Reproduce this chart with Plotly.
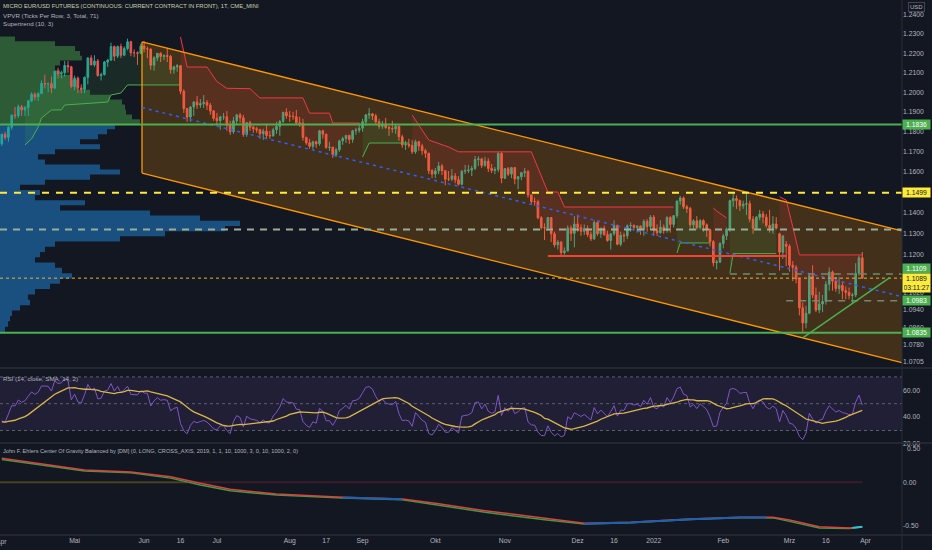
import numpy as np
import pandas as pd
import plotly.graph_objects as go

FONT = "Liberation Sans, Arial, sans-serif"
BG = "#131722"
TXT = "#b2b5be"

# one daily bar per weekday, Apr 2021 .. Mar 2022
dates = pd.bdate_range("2021-04-01", "2022-03-31")

opens = [
    # Apr 2021
    1.1740, 1.1788, 1.1772, 1.1823, 1.1884, 1.1881, 1.1926, 1.1910, 1.1921, 1.1956, 1.1990,
    1.1976, 1.1993, 1.2045, 1.2043, 1.2044, 1.2021, 1.2107, 1.2094, 1.2100, 1.2137, 1.2130,
    # May
    1.2029, 1.2072, 1.2022, 1.2014, 1.2076, 1.2176, 1.2140, 1.2160, 1.2085, 1.2090, 1.2155,
    1.2165, 1.2235, 1.2185, 1.2235, 1.2190, 1.2225, 1.2260, 1.2203, 1.2203, 1.2200,
    # Jun
    1.2238, 1.2223, 1.2222, 1.2138, 1.2176, 1.2200, 1.2184, 1.2188, 1.2184, 1.2116, 1.2130,
    1.2136, 1.2005, 1.1917, 1.1874, 1.1925, 1.1950, 1.1935, 1.1942, 1.1948, 1.1934, 1.1905,
    # Jul
    1.1868, 1.1856, 1.1875, 1.1875, 1.1833, 1.1800, 1.1855, 1.1885, 1.1870, 1.1787, 1.1846,
    1.1823, 1.1815, 1.1810, 1.1790, 1.1803, 1.1782, 1.1780, 1.1810, 1.1827, 1.1852, 1.1898,
    # Aug
    1.1880, 1.1878, 1.1876, 1.1845, 1.1843, 1.1772, 1.1745, 1.1728, 1.1750, 1.1740, 1.1805,
    1.1788, 1.1722, 1.1723, 1.1686, 1.1710, 1.1755, 1.1766, 1.1782, 1.1762, 1.1805, 1.1808,
    # Sep
    1.1818, 1.1850, 1.1885, 1.1890, 1.1880, 1.1850, 1.1828, 1.1840, 1.1822, 1.1818, 1.1815,
    1.1828, 1.1775, 1.1735, 1.1737, 1.1732, 1.1700, 1.1750, 1.1729, 1.1706, 1.1693, 1.1607,
    # Oct
    1.1590, 1.1606, 1.1630, 1.1607, 1.1565, 1.1565, 1.1581, 1.1562, 1.1540, 1.1604, 1.1607,
    1.1610, 1.1618, 1.1662, 1.1665, 1.1633, 1.1654, 1.1618, 1.1608, 1.1613, 1.1692,
    # Nov
    1.1570, 1.1617, 1.1590, 1.1622, 1.1566, 1.1577, 1.1597, 1.1602, 1.1488, 1.1456, 1.1455,
    1.1377, 1.1330, 1.1328, 1.1378, 1.1300, 1.1247, 1.1260, 1.1210, 1.1218, 1.1328, 1.1302,
    # Dec
    1.1347, 1.1330, 1.1312, 1.1325, 1.1297, 1.1276, 1.1354, 1.1300, 1.1326, 1.1296, 1.1268,
    1.1300, 1.1340, 1.1250, 1.1293, 1.1290, 1.1338, 1.1340, 1.1330, 1.1337, 1.1320, 1.1360, 1.1335,
    # Jan 2022
    1.1380, 1.1315, 1.1305, 1.1332, 1.1315, 1.1378, 1.1345, 1.1387, 1.1458, 1.1473, 1.1430,
    1.1422, 1.1343, 1.1362, 1.1330, 1.1363, 1.1343, 1.1320, 1.1262, 1.1162, 1.1165,
    # Feb
    1.1253, 1.1290, 1.1323, 1.1460, 1.1470, 1.1461, 1.1435, 1.1443, 1.1445, 1.1370,
    1.1326, 1.1380, 1.1395, 1.1380, 1.1340, 1.1327, 1.1347, 1.1300, 1.1212, 1.1250,
    # Mar
    1.1240, 1.1150, 1.1140, 1.1085, 1.0950, 1.0880, 1.0925, 1.1100, 1.1010, 1.0940, 1.0968,
    1.0980, 1.1060, 1.1118, 1.1075, 1.1040, 1.1055, 1.1030, 1.1022, 1.1008, 1.1010, 1.1112, 1.1185,
]
highs = [
    1.1790, 1.1800, 1.1830, 1.1885, 1.1925, 1.1937, 1.1935, 1.1930, 1.1960, 1.2000, 1.1999,
    1.2000, 1.2060, 1.2090, 1.2050, 1.2080, 1.2110, 1.2125, 1.2110, 1.2160, 1.2160, 1.2135,
    1.2085, 1.2080, 1.2040, 1.2080, 1.2180, 1.2190, 1.2190, 1.2170, 1.2100, 1.2160, 1.2170,
    1.2255, 1.2240, 1.2240, 1.2250, 1.2235, 1.2276, 1.2265, 1.2220, 1.2210, 1.2250,
    1.2264, 1.2235, 1.2225, 1.2185, 1.2200, 1.2205, 1.2195, 1.2228, 1.2192, 1.2135, 1.2145,
    1.2140, 1.2015, 1.1920, 1.1930, 1.1955, 1.1980, 1.1965, 1.1985, 1.1960, 1.1945, 1.1910,
    1.1895, 1.1880, 1.1895, 1.1905, 1.1855, 1.1875, 1.1890, 1.1895, 1.1885, 1.1850, 1.1855,
    1.1830, 1.1825, 1.1815, 1.1815, 1.1840, 1.1805, 1.1820, 1.1850, 1.1860, 1.1900, 1.1919,
    1.1905, 1.1900, 1.1910, 1.1875, 1.1865, 1.1775, 1.1765, 1.1755, 1.1755, 1.1810, 1.1810,
    1.1790, 1.1750, 1.1725, 1.1720, 1.1760, 1.1775, 1.1780, 1.1785, 1.1810, 1.1820, 1.1845,
    1.1865, 1.1890, 1.1919, 1.1895, 1.1890, 1.1865, 1.1855, 1.1870, 1.1830, 1.1855, 1.1840,
    1.1830, 1.1785, 1.1755, 1.1765, 1.1760, 1.1760, 1.1755, 1.1740, 1.1715, 1.1695, 1.1615,
    1.1620, 1.1650, 1.1640, 1.1610, 1.1605, 1.1615, 1.1595, 1.1580, 1.1610, 1.1635, 1.1635,
    1.1630, 1.1680, 1.1678, 1.1670, 1.1675, 1.1668, 1.1640, 1.1625, 1.1702, 1.1700,
    1.1620, 1.1625, 1.1625, 1.1625, 1.1580, 1.1600, 1.1620, 1.1610, 1.1490, 1.1475, 1.1465,
    1.1385, 1.1350, 1.1380, 1.1380, 1.1310, 1.1270, 1.1265, 1.1235, 1.1340, 1.1340, 1.1385,
    1.1392, 1.1345, 1.1345, 1.1340, 1.1310, 1.1365, 1.1360, 1.1330, 1.1340, 1.1315, 1.1300,
    1.1365, 1.1345, 1.1310, 1.1305, 1.1345, 1.1355, 1.1345, 1.1340, 1.1340, 1.1370, 1.1370, 1.1390,
    1.1390, 1.1345, 1.1365, 1.1345, 1.1385, 1.1385, 1.1390, 1.1460, 1.1482, 1.1480, 1.1440,
    1.1430, 1.1370, 1.1385, 1.1370, 1.1370, 1.1350, 1.1325, 1.1270, 1.1175, 1.1260,
    1.1300, 1.1330, 1.1465, 1.1495, 1.1485, 1.1465, 1.1460, 1.1499, 1.1460, 1.1385,
    1.1385, 1.1415, 1.1410, 1.1395, 1.1415, 1.1385, 1.1380, 1.1305, 1.1290, 1.1265,
    1.1250, 1.1170, 1.1150, 1.1090, 1.0975, 1.0960, 1.1110, 1.1150, 1.1045, 1.1025, 1.1010,
    1.1075, 1.1140, 1.1125, 1.1095, 1.1095, 1.1075, 1.1050, 1.1045, 1.1020, 1.1160, 1.1195, 1.1213,
]
lows = [
    1.1730, 1.1760, 1.1750, 1.1810, 1.1865, 1.1870, 1.1880, 1.1880, 1.1880, 1.1950, 1.1960,
    1.1955, 1.1990, 1.2020, 1.2000, 1.1995, 1.2015, 1.2070, 1.2070, 1.2080, 1.2100, 1.2020,
    1.2010, 1.1995, 1.1995, 1.1995, 1.2040, 1.2140, 1.2130, 1.2080, 1.2060, 1.2085, 1.2130,
    1.2160, 1.2160, 1.2175, 1.2175, 1.2185, 1.2215, 1.2185, 1.2180, 1.2140, 1.2195,
    1.2205, 1.2175, 1.2115, 1.2110, 1.2160, 1.2155, 1.2165, 1.2155, 1.2095, 1.2095, 1.2105,
    1.1990, 1.1895, 1.1850, 1.1850, 1.1880, 1.1915, 1.1920, 1.1920, 1.1910, 1.1885, 1.1855,
    1.1830, 1.1810, 1.1860, 1.1805, 1.1785, 1.1790, 1.1835, 1.1845, 1.1775, 1.1775, 1.1805,
    1.1795, 1.1795, 1.1765, 1.1760, 1.1765, 1.1765, 1.1775, 1.1790, 1.1780, 1.1845, 1.1865,
    1.1850, 1.1860, 1.1840, 1.1825, 1.1755, 1.1735, 1.1715, 1.1715, 1.1720, 1.1730, 1.1765,
    1.1715, 1.1705, 1.1670, 1.1674, 1.1700, 1.1735, 1.1745, 1.1740, 1.1745, 1.1785, 1.1795,
    1.1800, 1.1830, 1.1865, 1.1860, 1.1840, 1.1815, 1.1815, 1.1815, 1.1780, 1.1795, 1.1790,
    1.1755, 1.1720, 1.1710, 1.1720, 1.1690, 1.1690, 1.1705, 1.1685, 1.1670, 1.1590, 1.1570,
    1.1570, 1.1590, 1.1585, 1.1535, 1.1555, 1.1555, 1.1545, 1.1534, 1.1535, 1.1590, 1.1595,
    1.1580, 1.1610, 1.1630, 1.1620, 1.1625, 1.1600, 1.1595, 1.1590, 1.1600, 1.1545,
    1.1565, 1.1580, 1.1570, 1.1540, 1.1515, 1.1560, 1.1575, 1.1475, 1.1440, 1.1435, 1.1370,
    1.1320, 1.1270, 1.1315, 1.1260, 1.1235, 1.1225, 1.1195, 1.1200, 1.1215, 1.1265, 1.1235,
    1.1310, 1.1290, 1.1295, 1.1285, 1.1265, 1.1270, 1.1290, 1.1280, 1.1290, 1.1262, 1.1225,
    1.1290, 1.1245, 1.1240, 1.1260, 1.1275, 1.1310, 1.1315, 1.1305, 1.1295, 1.1290, 1.1310, 1.1320,
    1.1290, 1.1290, 1.1300, 1.1300, 1.1305, 1.1305, 1.1330, 1.1375, 1.1440, 1.1420, 1.1400,
    1.1330, 1.1325, 1.1320, 1.1320, 1.1310, 1.1285, 1.1240, 1.1145, 1.1130, 1.1160,
    1.1230, 1.1270, 1.1310, 1.1430, 1.1420, 1.1410, 1.1420, 1.1390, 1.1355, 1.1300,
    1.1320, 1.1365, 1.1350, 1.1330, 1.1305, 1.1300, 1.1320, 1.1125, 1.1180, 1.1145,
    1.1120, 1.1075, 1.1065, 1.0915, 1.0836, 1.0855, 1.0920, 1.0995, 1.0930, 1.0925, 1.0930,
    1.0965, 1.1030, 1.1030, 1.1025, 1.1015, 1.0990, 1.0990, 1.0990, 1.0970, 1.1000, 1.1100, 1.1085,
]
closes = [
    1.1788, 1.1772, 1.1823, 1.1884, 1.1881, 1.1926, 1.1910, 1.1921, 1.1956, 1.1990, 1.1976,
    1.1993, 1.2045, 1.2043, 1.2044, 1.2021, 1.2107, 1.2094, 1.2100, 1.2137, 1.2130, 1.2029,
    1.2072, 1.2022, 1.2014, 1.2076, 1.2176, 1.2140, 1.2160, 1.2085, 1.2090, 1.2155, 1.2165,
    1.2235, 1.2185, 1.2235, 1.2190, 1.2225, 1.2260, 1.2203, 1.2203, 1.2200, 1.2238,
    1.2223, 1.2222, 1.2138, 1.2176, 1.2200, 1.2184, 1.2188, 1.2184, 1.2116, 1.2130, 1.2136,
    1.2005, 1.1917, 1.1874, 1.1925, 1.1950, 1.1935, 1.1942, 1.1948, 1.1934, 1.1905, 1.1868,
    1.1856, 1.1875, 1.1875, 1.1833, 1.1800, 1.1855, 1.1885, 1.1870, 1.1787, 1.1846, 1.1823,
    1.1815, 1.1810, 1.1790, 1.1803, 1.1782, 1.1780, 1.1810, 1.1827, 1.1852, 1.1898, 1.1880,
    1.1878, 1.1876, 1.1845, 1.1843, 1.1772, 1.1745, 1.1728, 1.1750, 1.1740, 1.1805, 1.1788,
    1.1722, 1.1723, 1.1686, 1.1710, 1.1755, 1.1766, 1.1782, 1.1762, 1.1805, 1.1808, 1.1818,
    1.1850, 1.1885, 1.1890, 1.1880, 1.1850, 1.1828, 1.1840, 1.1822, 1.1818, 1.1815, 1.1828,
    1.1775, 1.1735, 1.1737, 1.1732, 1.1700, 1.1750, 1.1729, 1.1706, 1.1693, 1.1607, 1.1590,
    1.1606, 1.1630, 1.1607, 1.1565, 1.1565, 1.1581, 1.1562, 1.1540, 1.1604, 1.1607, 1.1610,
    1.1618, 1.1662, 1.1665, 1.1633, 1.1654, 1.1618, 1.1608, 1.1613, 1.1692, 1.1570,
    1.1617, 1.1590, 1.1622, 1.1566, 1.1577, 1.1597, 1.1602, 1.1488, 1.1456, 1.1455, 1.1377,
    1.1330, 1.1328, 1.1378, 1.1300, 1.1247, 1.1260, 1.1210, 1.1218, 1.1328, 1.1302, 1.1347,
    1.1330, 1.1312, 1.1325, 1.1297, 1.1276, 1.1354, 1.1300, 1.1326, 1.1296, 1.1268, 1.1300,
    1.1340, 1.1250, 1.1293, 1.1290, 1.1338, 1.1340, 1.1330, 1.1337, 1.1320, 1.1360, 1.1335, 1.1380,
    1.1315, 1.1305, 1.1332, 1.1315, 1.1378, 1.1345, 1.1387, 1.1458, 1.1473, 1.1430, 1.1422,
    1.1343, 1.1362, 1.1330, 1.1363, 1.1343, 1.1320, 1.1262, 1.1162, 1.1165, 1.1253,
    1.1290, 1.1323, 1.1460, 1.1470, 1.1461, 1.1435, 1.1443, 1.1445, 1.1370, 1.1326,
    1.1380, 1.1395, 1.1380, 1.1340, 1.1327, 1.1347, 1.1327, 1.1212, 1.1290, 1.1240,
    1.1150, 1.1140, 1.1085, 1.0950, 1.0880, 1.0925, 1.1100, 1.1010, 1.0940, 1.0968, 1.0980,
    1.1060, 1.1118, 1.1075, 1.1040, 1.1055, 1.1030, 1.1022, 1.1008, 1.1010, 1.1112, 1.1185, 1.1089,
]
# Feb-Mar 2021 closes, only used to warm up the RSI
warmup_closes = [
    1.2073, 1.2050, 1.2045, 1.1973, 1.2056, 1.2060, 1.2128, 1.2130, 1.2143, 1.2128,
    1.2140, 1.2115, 1.2050, 1.2100, 1.2130, 1.2165, 1.2160, 1.2175, 1.2185, 1.2085,
    1.2058, 1.2100, 1.2075, 1.1975, 1.1925, 1.1858, 1.1910, 1.1935, 1.1995, 1.1960,
    1.1940, 1.1910, 1.1987, 1.1925, 1.1915, 1.1947, 1.1860, 1.1825, 1.1775, 1.1805,
    1.1775, 1.1738, 1.1740,
]

# volume profile (VPVR): row centre prices and row volume (drawn as px of width)
vp_prices = [
    1.2300, 1.2275, 1.2250, 1.2225, 1.2200, 1.2175, 1.2150, 1.2125, 1.2100, 1.2075,
    1.2050, 1.2025, 1.2000, 1.1975, 1.1950, 1.1925, 1.1900, 1.1875, 1.1850, 1.1825,
    1.1800, 1.1775, 1.1750, 1.1725, 1.1700, 1.1675, 1.1650, 1.1625, 1.1600, 1.1575,
    1.1550, 1.1525, 1.1500, 1.1475, 1.1450, 1.1425, 1.1400, 1.1375, 1.1350, 1.1325,
    1.1300, 1.1275, 1.1250, 1.1225, 1.1200, 1.1175, 1.1150, 1.1125, 1.1100, 1.1075,
    1.1050, 1.1025, 1.1000, 1.0975, 1.0950, 1.0925, 1.0900, 1.0875, 1.0850, 1.0825,
]
vp_volume = [
    0, 15, 55, 75, 80, 82, 60, 55, 60, 72,
    78, 78, 90, 110, 122, 125, 126, 132, 140, 115,
    107, 98, 80, 100, 55, 38, 45, 100, 120, 90,
    45, 20, 40, 35, 85, 60, 150, 200, 240, 225,
    165, 120, 55, 45, 40, 35, 55, 62, 72, 60,
    50, 35, 28, 30, 20, 12, 10, 8, 5, 0,
]
VP_SPLIT = 1.1836

# Supertrend (10, 3) segments
st_up1_d = ["2021-04-12", "2021-04-14", "2021-04-16", "2021-04-19", "2021-04-22", "2021-04-27",
            "2021-04-28", "2021-05-17", "2021-05-18", "2021-05-21", "2021-05-25", "2021-06-16"]
st_up1_v = [1.1734, 1.1765, 1.1824, 1.1869, 1.1910, 1.1910, 1.1935, 1.1950, 1.1986, 1.1996, 1.2037, 1.2037]
st_dn1_d = ["2021-06-16", "2021-06-18", "2021-06-28", "2021-07-01", "2021-07-06", "2021-07-15",
            "2021-07-20", "2021-08-06", "2021-08-10", "2021-08-18", "2021-08-19", "2021-08-31"]
st_dn1_v = [1.2285, 1.2129, 1.2129, 1.2054, 1.2020, 1.2018, 1.1971, 1.1971, 1.1894, 1.1894, 1.1844, 1.1844]
st_up2_d = ["2021-09-01", "2021-09-03", "2021-09-21"]
st_up2_v = [1.1674, 1.1744, 1.1744]
st_dn2_d = ["2021-09-22", "2021-09-29", "2021-10-07", "2021-10-12", "2021-11-11", "2021-11-18",
            "2021-11-23", "2021-11-25", "2022-01-11"]
st_dn2_v = [1.1884, 1.1759, 1.1724, 1.1700, 1.1700, 1.1502, 1.1502, 1.1429, 1.1429]
st_up3_d = ["2022-01-12", "2022-01-13", "2022-01-26"]
st_up3_v = [1.1208, 1.1256, 1.1256]
st_dn3_d = ["2022-01-27", "2022-01-28", "2022-02-02"]
st_dn3_v = [1.1424, 1.1410, 1.1376]
st_up4_d = ["2022-02-03", "2022-02-04", "2022-02-23"]
st_up4_v = [1.1113, 1.1205, 1.1205]
st_dn4_d = ["2022-02-24", "2022-02-28", "2022-03-02", "2022-03-04", "2022-03-31"]
st_dn4_v = [1.1479, 1.1463, 1.1334, 1.1199, 1.1199]

# Ehlers center of gravity lines (lower pane)
cog_d = ["2021-04-01", "2021-04-23", "2021-05-06", "2021-05-26", "2021-06-11", "2021-06-24",
         "2021-07-07", "2021-07-27", "2021-08-24", "2021-09-17", "2021-10-01", "2021-10-22",
         "2021-11-17", "2021-12-03", "2021-12-23", "2022-01-18", "2022-02-08", "2022-02-22",
         "2022-03-01", "2022-03-14", "2022-03-25", "2022-03-31"]
cog_red = [0.276, 0.188, 0.142, 0.119, 0.065, -0.012, -0.081, -0.135, -0.173, -0.192, -0.242,
           -0.327, -0.415, -0.472, -0.461, -0.423, -0.403, -0.403, -0.434, -0.511, -0.526, -0.511]
cog_green = [0.262, 0.172, 0.130, 0.110, 0.048, -0.032, -0.097, -0.147, -0.180, -0.200, -0.258,
             -0.345, -0.432, -0.480, -0.465, -0.428, -0.408, -0.410, -0.450, -0.527, -0.533, -0.515]
cog_blue1_d = ["2021-08-24", "2021-09-06", "2021-09-17"]
cog_blue1_v = [-0.176, -0.183, -0.194]
cog_blue2_d = ["2021-12-03", "2021-12-23", "2022-01-18", "2022-02-08", "2022-02-18"]
cog_blue2_v = [-0.476, -0.463, -0.425, -0.405, -0.405]
cog_teal_d = ["2022-03-28", "2022-03-31"]
cog_teal_v = [-0.525, -0.512]

# axis labels
tick_dates = ["2021-04-01", "2021-05-03", "2021-06-01", "2021-06-16", "2021-07-01", "2021-08-02",
              "2021-08-17", "2021-09-01", "2021-10-01", "2021-11-01", "2021-12-01", "2021-12-16",
              "2022-01-03", "2022-02-01", "2022-03-01", "2022-03-16", "2022-04-01"]
tick_text = ["Apr", "Mai", "Jun", "16", "Jul", "Aug", "17", "Sep", "Okt", "Nov", "Dez", "16",
             "2022", "Feb", "Mrz", "16", "Apr"]
price_ticks = [1.24, 1.23, 1.22, 1.21, 1.20, 1.19, 1.18, 1.17, 1.16, 1.14, 1.13, 1.12,
               1.102, 1.094, 1.086, 1.078, 1.0705]

X0, X1 = "2021-03-31 11:00", "2022-04-18 00:00"
P_LO, P_HI = 1.06784, 1.24792

fig = go.Figure()

# ---- volume profile (own linear x axis, sits under the price layer)
rows = sorted(zip(vp_prices, vp_volume))
half = 0.00125
for part, col in [([r for r in rows if r[0] < VP_SPLIT], "rgba(33,150,243,0.45)"),
                  ([r for r in rows if r[0] > VP_SPLIT], "rgba(76,175,80,0.45)")]:
    xs, ys = [0], [part[0][0] - half]
    for p, w in part:
        xs += [w, w]
        ys += [p - half, p + half]
    xs.append(0)
    ys.append(part[-1][0] + half)
    fig.add_trace(go.Scatter(x=xs, y=ys, xaxis="x2", yaxis="y", fill="toself",
                             fillcolor=col, line=dict(width=0), mode="lines", hoverinfo="skip"))

# ---- parallel channel
ch_d = ["2021-05-31 08:40", X1]
ch_up = [1.2259, 1.1314]
ch_dn = [1.1595, 1.0698]
ch_mid = [1.1922, 1.1002]
fig.add_trace(go.Scatter(x=ch_d + ch_d[::-1], y=ch_up + ch_dn[::-1], fill="toself",
                         fillcolor="rgba(255,152,0,0.2)", line=dict(width=0), mode="lines"))

# ---- supertrend fills + lines
closes_s = pd.Series(closes, index=dates)
segs = [(st_up1_d, st_up1_v, "up"), (st_dn1_d, st_dn1_v, "dn"), (st_up2_d, st_up2_v, "up"),
        (st_dn2_d, st_dn2_v, "dn"), (st_up3_d, st_up3_v, "up"), (st_dn3_d, st_dn3_v, "dn"),
        (st_up4_d, st_up4_v, "up"), (st_dn4_d, st_dn4_v, "dn")]
for d, v, kind in segs:
    sub = closes_s[pd.Timestamp(d[0]):pd.Timestamp(d[-1])]
    fc = "rgba(76,175,80,0.13)" if kind == "up" else "rgba(242,54,69,0.13)"
    fig.add_trace(go.Scatter(x=list(pd.to_datetime(d)) + list(sub.index[::-1]),
                             y=list(v) + list(sub.values[::-1]), fill="toself", fillcolor=fc,
                             line=dict(width=0), mode="lines", hoverinfo="skip"))
for d, v, kind in segs:
    lc = "#4caf50" if kind == "up" else "#f23645"
    fig.add_trace(go.Scatter(x=d, y=v, mode="lines", line=dict(color=lc, width=1)))

# ---- candles
fig.add_trace(go.Candlestick(
    x=dates, open=opens, high=highs, low=lows, close=closes, whiskerwidth=0,
    increasing=dict(line=dict(color="#26a69a", width=1), fillcolor="#26a69a"),
    decreasing=dict(line=dict(color="#ef5350", width=1), fillcolor="#ef5350"),
))

# ---- drawings
def hline(y, color, width, dash="solid", x=(X0, X1)):
    fig.add_trace(go.Scatter(x=list(x), y=[y, y], mode="lines",
                             line=dict(color=color, width=width, dash=dash)))

fig.add_trace(go.Scatter(x=ch_d, y=ch_up, mode="lines", line=dict(color="#ff9800", width=1.3)))
fig.add_trace(go.Scatter(x=ch_d, y=ch_dn, mode="lines", line=dict(color="#ff9800", width=1.3)))
fig.add_trace(go.Scatter(x=[ch_d[0], ch_d[0]], y=[ch_up[0], ch_dn[0]], mode="lines",
                         line=dict(color="#ff9800", width=1.3)))
fig.add_trace(go.Scatter(x=ch_d, y=ch_mid, mode="lines",
                         line=dict(color="#2962ff", width=1.5, dash="3px,4px")))
hline(1.1836, "#4caf50", 2)
hline(1.0835, "#4caf50", 2)
hline(1.1499, "#ffeb3b", 2, "7px,7px")
hline(1.1321, "#9aae97", 2, "7px,6px")
hline(1.1109, "#6f8a6f", 1.5, "7px,6px", ("2022-02-03", X1))
hline(1.0983, "#6f8a6f", 1.5, "7px,6px", ("2022-02-28", X1))
hline(1.1194, "#f44336", 2, "solid", ("2021-11-18", "2022-02-28"))
hline(1.1089, "#e8b730", 1, "dot")
fig.add_trace(go.Scatter(x=["2022-03-07", "2022-04-12 07:00"], y=[1.0811, 1.1091], mode="lines",
                         line=dict(color="#4caf50", width=1.5)))

# ---- RSI pane
allc = pd.Series(warmup_closes + closes)
delta = allc.diff()
up = delta.clip(lower=0).ewm(alpha=1 / 14, adjust=False).mean()
dn = (-delta.clip(upper=0)).ewm(alpha=1 / 14, adjust=False).mean()
rsi_all = 100 - 100 / (1 + up / dn)
rsi_ma_all = rsi_all.rolling(14).mean()
n0 = len(warmup_closes)
rsi = rsi_all.iloc[n0:].values
rsi_ma = rsi_ma_all.iloc[n0:].values

fig.add_trace(go.Scatter(x=[X0, X1, X1, X0], y=[30, 30, 70, 70], yaxis="y2", fill="toself",
                         fillcolor="rgba(126,87,194,0.13)", line=dict(width=0), mode="lines"))
for lvl in (70, 50, 30):
    fig.add_trace(go.Scatter(x=[X0, X1], y=[lvl, lvl], yaxis="y2", mode="lines",
                             line=dict(color="#5d606b", width=1, dash="3px,3px")))
fig.add_trace(go.Scatter(x=dates, y=rsi, yaxis="y2", mode="lines",
                         line=dict(color="#7e57c2", width=1)))
fig.add_trace(go.Scatter(x=dates, y=rsi_ma, yaxis="y2", mode="lines",
                         line=dict(color="#d9b64a", width=1.3)))

# ---- COG pane
fig.add_trace(go.Scatter(x=[X0, "2021-06-18"], y=[0, 0], yaxis="y3", mode="lines",
                         line=dict(color="#47421f", width=2)))
fig.add_trace(go.Scatter(x=["2021-06-18", "2022-03-31"], y=[0, 0], yaxis="y3", mode="lines",
                         line=dict(color="#3a1c2a", width=2)))
fig.add_trace(go.Scatter(x=cog_d, y=cog_green, yaxis="y3", mode="lines",
                         line=dict(color="#3f9a4a", width=1.5)))
fig.add_trace(go.Scatter(x=cog_d, y=cog_red, yaxis="y3", mode="lines",
                         line=dict(color="#d9433d", width=1.5)))
fig.add_trace(go.Scatter(x=cog_blue1_d, y=cog_blue1_v, yaxis="y3", mode="lines",
                         line=dict(color="#1e5fb4", width=2)))
fig.add_trace(go.Scatter(x=cog_blue2_d, y=cog_blue2_v, yaxis="y3", mode="lines",
                         line=dict(color="#1e5fb4", width=2)))
fig.add_trace(go.Scatter(x=cog_teal_d, y=cog_teal_v, yaxis="y3", mode="lines",
                         line=dict(color="#26c6da", width=2)))

# ---- layout
H = 535.0  # plot area height in px

def py(px):
    return (H - px) / H

tickfont = dict(family=FONT, size=6.8, color=TXT)
fig.update_layout(
    width=932, height=550, margin=dict(l=0, r=30, t=0, b=15),
    paper_bgcolor=BG, plot_bgcolor=BG, showlegend=False, hovermode=False,
    xaxis=dict(type="date", overlaying="x2", anchor="y3", range=[X0, X1],
               rangebreaks=[dict(bounds=["sat", "mon"])], tickvals=tick_dates, ticktext=tick_text,
               showgrid=False, zeroline=False, showline=False, ticks="", tickfont=tickfont,
               rangeslider=dict(visible=False)),
    xaxis2=dict(range=[0, 902], visible=False, anchor="y", domain=[0, 1]),
    yaxis=dict(type="log", domain=[py(367), 1], range=[np.log10(P_LO), np.log10(P_HI)],
               side="right", anchor="x", tickvals=price_ticks,
               ticktext=[f"{t:.4f}" for t in price_ticks], showgrid=False, zeroline=False,
               ticks="", tickfont=tickfont),
    yaxis2=dict(domain=[py(443.9), py(369)], range=[20, 75.9], side="right", anchor="x",
                tickvals=[20, 40, 60], ticktext=["20.00", "40.00", "60.00"], showgrid=False,
                zeroline=False, ticks="", tickfont=tickfont),
    yaxis3=dict(domain=[0, py(444)], range=[-0.607, 0.441], side="right", anchor="x",
                tickvals=[0, -0.5], ticktext=["0.00", "-0.50"], showgrid=False,
                zeroline=False, ticks="", tickfont=tickfont),
)

sep = "#2a2e39"
shapes = []
for ypx in (368, 443):
    shapes.append(dict(type="line", xref="paper", yref="paper", x0=0, x1=932 / 902,
                       y0=py(ypx), y1=py(ypx), line=dict(color=sep, width=1.5)))
shapes.append(dict(type="line", xref="paper", yref="paper", x0=0, x1=932 / 902, y0=0, y1=0,
                   line=dict(color=sep, width=1.5)))
shapes.append(dict(type="line", xref="paper", yref="paper", x0=1, x1=1, y0=-15 / H, y1=1,
                   line=dict(color=sep, width=1)))
fig.update_layout(shapes=shapes)

ann = []

def label(text, xpx, ypx, color=TXT, size=6.2, anchor="left"):
    ann.append(dict(text=text, xref="paper", yref="paper", x=xpx / 902, y=py(ypx),
                    xanchor=anchor, yanchor="middle", showarrow=False, borderpad=0,
                    font=dict(family=FONT, size=size, color=color)))

label("MICRO EUR/USD FUTURES (CONTINUOUS: CURRENT CONTRACT IN FRONT), 1T, CME_MINI", 2, 6, "#c8d4a8", 5.8)
label("VPVR (Ticks Per Row, 3, Total, 71)", 2, 15)
label("Supertrend (10, 3)", 2, 24)
label("RSI (14, close, SMA, 14, 2)", 2, 378)
label("John F. Ehlers Center Of Gravity Balanced by [DM] (0, LONG, CROSS_AXIS, 2019, 1, 1, 10, "
      "1000, 3, 0, 10, 1000, 2, 0)", 2, 451, TXT, 5.6)
label("0.50", 906, 448, TXT, 6.8)
# first month label sits on the left edge and is clipped there, as in the original
label("Apr", 1.8, 542, TXT, 6.8, "center")

def tag(val, text, bg, fg, yshift=0, yanchor="middle"):
    ann.append(dict(text=text, xref="paper", yref="y", x=1.0, y=np.log10(val), xanchor="left",
                    yanchor=yanchor, yshift=yshift, showarrow=False, bgcolor=bg, borderpad=1,
                    width=25, align="center", font=dict(family=FONT, size=6.8, color=fg)))

tag(1.1836, "1.1836", "#4caf50", "#ffffff")
tag(1.1499, "1.1499", "#ffeb3b", "#131722")
tag(1.1109, "1.1109", "#4caf50", "#ffffff", yshift=5)
tag(1.1089, "1.1089<br>03:11:27", "#ffeb3b", "#131722", yshift=5, yanchor="top")
tag(1.0983, "1.0983", "#4caf50", "#ffffff")
tag(1.0835, "1.0835", "#4caf50", "#ffffff")
ann.append(dict(text="USD", xref="paper", yref="paper", x=916 / 902, y=py(7), xanchor="center",
                yanchor="middle", showarrow=False, bordercolor="#434651", borderwidth=1,
                borderpad=1, font=dict(family=FONT, size=6, color=TXT)))
fig.update_layout(annotations=ann)

# drop the page's default body margin so the chart sits at the window's corner
fig.write_html("out.html", config={"displayModeBar": False},
               post_script="document.body.style.margin='0px';")
